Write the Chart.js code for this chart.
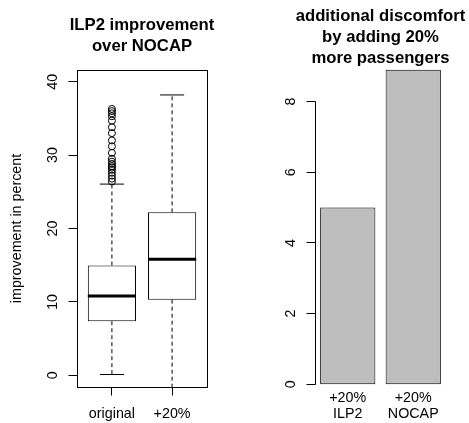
<!DOCTYPE html>
<html><head><meta charset="utf-8">
<script src="https://cdn.jsdelivr.net/npm/chart.js@4.4.0/dist/chart.umd.min.js"></script>
<style>
html,body{margin:0;padding:0;background:#fff;}
#wrap{position:relative;width:469px;height:423px;overflow:hidden;background:#fff;}
canvas{position:absolute;top:0;}
#c1{left:0;} #c2{left:235px;}
</style></head><body>
<div id="wrap"><canvas id="c1" width="235" height="423"></canvas><canvas id="c2" width="234" height="423"></canvas></div>
<script>
// ---- data ----
const boxCategories = ['original', '+20%'];
const boxQ1 = [7.37, 10.3];
const boxMedian = [10.8, 15.8];
const boxQ3 = [14.96, 22.2];
const whiskerLow = [0.1, -4];
const whiskerHigh = [26.05, 38.2];
const outliersOriginal = [36.3, 36.0, 35.7, 35.3, 34.7, 33.8, 33.0, 32.0, 31.2, 30.3, 29.5, 29.1, 28.8, 28.5, 28.3, 28.0, 27.6, 27.2, 26.8, 26.4];
const boxYTicks = [0, 10, 20, 30, 40];
const boxYTickLabels = ['0', '10', '20', '30', '40'];
const boxTitle = ['ILP2 improvement', 'over NOCAP'];
const boxYTitle = 'improvement in percent';

const barCategories = [['+20%', 'ILP2'], ['+20%', 'NOCAP']];
const barValues = [5.0, 8.9];
const barYTicks = [0, 2, 4, 6, 8];
const barYTickLabels = ['0', '2', '4', '6', '8'];
const barTitle = ['additional discomfort', 'by adding 20%', 'more passengers'];

// ---- drawing helpers ----
const FONT = '"Liberation Sans", Arial, Helvetica, sans-serif';
const AXIS_FONT = '14.3px ' + FONT;
const TITLE_FONT = 'bold 16.7px ' + FONT;

const rPlot = {
  id: 'rPlot',
  afterDraw(chart, args, o) {
    const ctx = chart.ctx, ca = chart.chartArea;
    const xs = chart.scales.x, ys = chart.scales.y;
    const px = v => Math.floor(v) + 0.5;
    ctx.save();
    ctx.strokeStyle = '#000';
    ctx.fillStyle = '#000';
    ctx.lineWidth = 1;
    if (o.frame) {
      ctx.strokeRect(px(ca.left), px(ca.top), Math.floor(ca.right) - Math.floor(ca.left), Math.floor(ca.bottom) - Math.floor(ca.top));
    }
    // y axis ticks
    const ax = px(ca.left);
    if (o.axisLine) {
      ctx.beginPath();
      ctx.moveTo(ax, px(ys.getPixelForValue(o.yTicks[0])));
      ctx.lineTo(ax, px(ys.getPixelForValue(o.yTicks[o.yTicks.length - 1])));
      ctx.stroke();
    }
    ctx.font = AXIS_FONT;
    o.yTicks.forEach((v, i) => {
      const y = px(ys.getPixelForValue(v));
      ctx.beginPath();
      ctx.moveTo(ax - o.yTickLen, y);
      ctx.lineTo(ax, y);
      ctx.stroke();
      ctx.save();
      ctx.translate(o.yLabelX, ys.getPixelForValue(v));
      ctx.rotate(-Math.PI / 2);
      ctx.textAlign = 'center';
      ctx.textBaseline = 'alphabetic';
      ctx.fillText(o.yLabels[i], 0, 0);
      ctx.restore();
    });
    // x ticks and labels
    o.xValues.forEach((v, i) => {
      const x = xs.getPixelForValue(v);
      if (o.xTickLen) {
        ctx.beginPath();
        ctx.moveTo(px(x), px(ca.bottom));
        ctx.lineTo(px(x), px(ca.bottom) + o.xTickLen);
        ctx.stroke();
      }
      const lines = Array.isArray(o.xLabels[i]) ? o.xLabels[i] : [o.xLabels[i]];
      ctx.textAlign = 'center';
      ctx.textBaseline = 'alphabetic';
      lines.forEach((t, j) => ctx.fillText(t, x, o.xLabelBaselines[j]));
    });
    // y title
    if (o.yTitle) {
      ctx.save();
      ctx.translate(o.yTitleX, (ca.top + ca.bottom) / 2);
      ctx.rotate(-Math.PI / 2);
      ctx.textAlign = 'center';
      ctx.textBaseline = 'alphabetic';
      ctx.fillText(o.yTitle, 0, 0);
      ctx.restore();
    }
    // main title
    ctx.font = TITLE_FONT;
    ctx.textAlign = 'center';
    ctx.textBaseline = 'alphabetic';
    const cx = (ca.left + ca.right) / 2;
    o.title.forEach((t, j) => ctx.fillText(t, cx, o.titleBaselines[j]));
    ctx.restore();
  }
};

const hiddenScale = (extra) => Object.assign({
  grid: { display: false }, border: { display: false }, ticks: { display: false }
}, extra);

// ---- left: boxplot ----
const lineBase = { type: 'line', pointRadius: 0, pointHoverRadius: 0, borderColor: '#000', borderWidth: 1, fill: false, tension: 0, clip: 0, order: 1 };
const HALF_BOX = 0.4, HALF_CAP = 0.2;
const DASH = [4, 3];
const boxDatasets = [];
boxDatasets.push({
  type: 'bar',
  data: boxCategories.map((c, i) => ({ x: i + 1, y: [boxQ1[i], boxQ3[i]] })),
  backgroundColor: '#fff', borderColor: '#000', borderWidth: 1, borderSkipped: false,
  barPercentage: 1, categoryPercentage: 0.8, order: 5, clip: 0
});
boxCategories.forEach((c, i) => {
  const x = i + 1;
  boxDatasets.push(Object.assign({}, lineBase, { data: [{ x, y: boxQ3[i] }, { x, y: whiskerHigh[i] }], borderDash: DASH }));
  boxDatasets.push(Object.assign({}, lineBase, { data: [{ x, y: boxQ1[i] }, { x, y: whiskerLow[i] }], borderDash: DASH }));
  boxDatasets.push(Object.assign({}, lineBase, { data: [{ x: x - HALF_CAP, y: whiskerHigh[i] }, { x: x + HALF_CAP, y: whiskerHigh[i] }] }));
  boxDatasets.push(Object.assign({}, lineBase, { data: [{ x: x - HALF_CAP, y: whiskerLow[i] }, { x: x + HALF_CAP, y: whiskerLow[i] }] }));
  boxDatasets.push(Object.assign({}, lineBase, { data: [{ x: x - HALF_BOX, y: boxMedian[i] }, { x: x + HALF_BOX, y: boxMedian[i] }], borderWidth: 3, order: 0, borderCapStyle: 'butt' }));
});
boxDatasets.push({
  type: 'scatter',
  data: outliersOriginal.map(v => ({ x: 1, y: v })),
  pointStyle: 'circle', pointRadius: 3.5, pointHoverRadius: 3.5,
  backgroundColor: 'rgba(0,0,0,0)', borderColor: '#000', pointBorderWidth: 1, borderWidth: 1,
  order: 0, clip: 0
});

new Chart(document.getElementById('c1'), {
  type: 'bar',
  data: { datasets: boxDatasets },
  options: {
    responsive: false, animation: false, devicePixelRatio: 1,
    layout: { padding: { left: 0, right: 28, top: 70, bottom: 0 } },
    plugins: {
      legend: { display: false }, tooltip: { enabled: false },
      rPlot: {
        frame: true, axisLine: false,
        yTicks: boxYTicks, yLabels: boxYTickLabels, yTickLen: 9, yLabelX: 57.3,
        xValues: [1, 2], xLabels: boxCategories, xTickLen: 8, xLabelBaselines: [418.3],
        yTitle: boxYTitle, yTitleX: 20.5,
        title: boxTitle, titleBaselines: [29.5, 51]
      }
    },
    scales: {
      x: hiddenScale({ type: 'linear', offset: false, min: 0.42, max: 2.58, afterFit: s => { s.height = 36; } }),
      y: hiddenScale({ type: 'linear', min: -1.6, max: 41.6, afterFit: s => { s.width = 77; } })
    }
  },
  plugins: [rPlot]
});

// ---- right: barplot ----
new Chart(document.getElementById('c2'), {
  type: 'bar',
  data: {
    labels: barCategories,
    datasets: [{
      data: barValues, backgroundColor: '#bebebe', borderColor: '#000', borderWidth: 1,
      borderSkipped: false, barPercentage: 1, categoryPercentage: 0.843
    }]
  },
  options: {
    responsive: false, animation: false, devicePixelRatio: 1,
    layout: { padding: { left: 0, right: 23, top: 57, bottom: 0 } },
    plugins: {
      legend: { display: false }, tooltip: { enabled: false },
      rPlot: {
        frame: false, axisLine: true,
        yTicks: barYTicks, yLabels: barYTickLabels, yTickLen: 9, yLabelX: 60,
        xValues: [0, 1], xLabels: barCategories, xTickLen: 0, xLabelBaselines: [402.3, 418.3],
        title: barTitle, titleBaselines: [20.7, 41.7, 62.7]
      }
    },
    scales: {
      x: hiddenScale({ type: 'category', offset: true, afterFit: s => { s.height = 26; } }),
      y: hiddenScale({ type: 'linear', min: -0.36, max: 9.26, afterFit: s => { s.width = 80; } })
    }
  },
  plugins: [rPlot]
});
</script>
</body></html>
